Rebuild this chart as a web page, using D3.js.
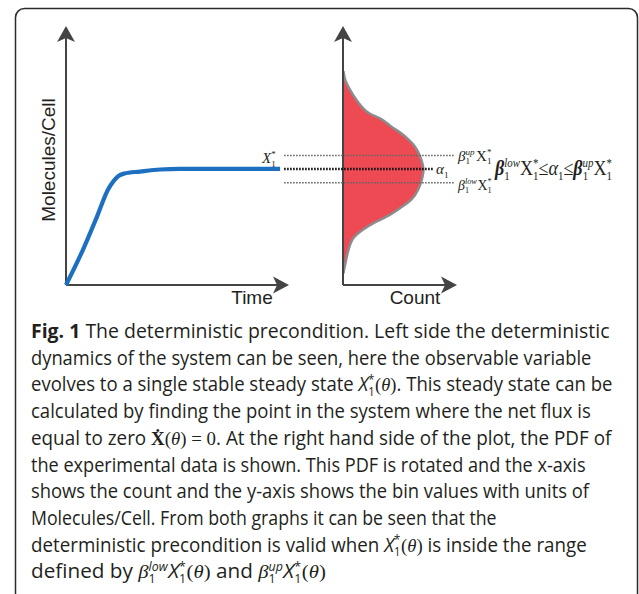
<!DOCTYPE html>
<html>
<head>
<meta charset="utf-8">
<script src="https://cdn.jsdelivr.net/npm/d3@7"></script>
<style>
body { margin: 0; background: #fff; }
svg text { fill: #231f20; white-space: pre; }
</style>
</head>
<body>
<div id="chart"></div>
<script>
var width = 639, height = 594

// deterministic time course (left panel), axes run 0..10
let timeVals = [0, 0.76, 1.39, 1.88, 2.15, 2.33, 2.6, 3.32, 4.22, 5.11, 9.6]
let molVals = [0, 1.36, 2.64, 3.68, 4.03, 4.19, 4.3, 4.38, 4.46, 4.48, 4.48]

// rotated PDF of the experimental data (right panel)
let binVals = [8.26, 7.9, 7.64, 7.17, 6.59, 6.47, 6.12, 5.89, 5.62, 5.35, 4.96, 4.57, 4.34, 3.99, 3.68, 3.29, 2.98, 2.64, 2.4, 2.13, 1.86, 1.63, 1.24, 0.85, 0.6, 0.45]
let countVals = [0, 0.12, 0.44, 1.05, 2.1, 3.25, 4.12, 5.0, 5.7, 6.32, 6.75, 7.02, 7.02, 6.84, 6.58, 6.05, 5.0, 3.86, 2.63, 1.67, 0.88, 0.61, 0.35, 0.18, 0.05, 0]

// steady state and the bounds around it
let steadyState = 4.48
let upperBound = 5.0
let lowerBound = 3.95

let axisLabels = ["Time", "Molecules/Cell", "Count"]

let captionLines = [
    [{ t: "Fig. 1", b: true }, { t: " The deterministic precondition. Left side the deterministic" }],
    [{ t: "dynamics of the system can be seen, here the observable variable" }],
    [{ t: "evolves to a single stable steady state " }, { t: "X", i: true }, { sub: "1", sup: "*" }, { t: "(", m: true }, { t: "θ", m: true, i: true }, { t: ")", m: true }, { t: ". This steady state can be" }],
    [{ t: "calculated by finding the point in the system where the net flux is" }],
    [{ t: "equal to zero " }, { t: "Ẋ", m: true, b: true }, { t: "(", m: true }, { t: "θ", m: true, i: true }, { t: ") = 0", m: true }, { t: ". At the right hand side of the plot, the PDF of" }],
    [{ t: "the experimental data is shown. This PDF is rotated and the x-axis" }],
    [{ t: "shows the count and the y-axis shows the bin values with units of" }],
    [{ t: "Molecules/Cell. From both graphs it can be seen that the" }],
    [{ t: "deterministic precondition is valid when " }, { t: "X", i: true }, { sub: "1", sup: "*" }, { t: "(", m: true }, { t: "θ", m: true, i: true }, { t: ")", m: true }, { t: " is inside the range" }],
    [{ t: "defined by " }, { t: "β", m: true, i: true }, { sub: "1", sup: "low", supI: true }, { t: "X", i: true }, { sub: "1", sup: "*" }, { t: "(", m: true }, { t: "θ", m: true, i: true }, { t: ")", m: true }, { t: " and " },
        { t: "β", m: true, i: true }, { sub: "1", sup: "up", supI: true }, { t: "X", i: true }, { sub: "1", sup: "*" }, { t: "(", m: true }, { t: "θ", m: true, i: true }, { t: ")", m: true }]
]
// right end of each caption line in the reference
let captionEnds = [610, 592, 613, 591, 613, 586, 591, 497, 587, 326]

const sansFont = "'Liberation Sans', Arial, sans-serif"
const serifFont = "'Liberation Serif', 'Times New Roman', serif"
const capFont = "'Open Sans', sans-serif"

let svg = d3.select("#chart")
    .append("svg")
    .attr("width", width)
    .attr("height", height)

// frame around the figure
svg.append("rect")
    .attr("x", 15.5)
    .attr("y", 8.5)
    .attr("width", 622)
    .attr("height", 640)
    .attr("rx", 9)
    .attr("fill", "none")
    .attr("stroke", "#2b2b2b")
    .attr("stroke-width", 1.5)

let xTime = d3.scaleLinear().domain([0, 10]).range([66, 289])
let yMol = d3.scaleLinear().domain([0, 10]).range([285, 26])
let xCount = d3.scaleLinear().domain([0, 10]).range([343, 457])

function arrowUp(x, y) {
    return "M" + x + "," + y + " L" + (x + 9) + "," + (y + 16) + " L" + x + "," + (y + 12) + " L" + (x - 9) + "," + (y + 16) + "Z"
}
function arrowRight(x, y) {
    return "M" + x + "," + y + " L" + (x - 16) + "," + (y + 8.5) + " L" + (x - 12) + "," + y + " L" + (x - 16) + "," + (y - 8.5) + "Z"
}

function drawAxes(xs) {
    let g = svg.append("g")
    g.append("line")
        .attr("x1", xs(0)).attr("y1", yMol(0))
        .attr("x2", xs(0)).attr("y2", yMol(10) + 10)
        .attr("stroke", "#444").attr("stroke-width", 2)
    g.append("line")
        .attr("x1", xs(0)).attr("y1", yMol(0))
        .attr("x2", xs(10) - 10).attr("y2", yMol(0))
        .attr("stroke", "#444").attr("stroke-width", 2)
    g.append("path").attr("d", arrowUp(xs(0), yMol(10))).attr("fill", "#444")
    g.append("path").attr("d", arrowRight(xs(10), yMol(0))).attr("fill", "#444")
}

// rich text helper for the math bits
function rich(parent, x, y, size, segs, family) {
    let t = parent.append("text")
        .attr("x", x).attr("y", y)
        .style("font-size", size + "px")
        .style("font-family", family)
    let shift = 0
    let pad = 0
    segs.forEach(s => {
        if (s.sub !== undefined || s.sup !== undefined) {
            let wSub = 0, wSup = 0
            let ssize = size * 0.6
            if (s.sub !== undefined) {
                let ts = t.append("tspan")
                    .attr("dx", pad)
                    .attr("dy", size * 0.25 - shift)
                    .style("font-size", ssize + "px")
                    .text(s.sub)
                shift = size * 0.25
                wSub = ts.node().getComputedTextLength()
                pad = 0
            }
            if (s.sup !== undefined) {
                let ts = t.append("tspan")
                    .attr("dx", pad - wSub)
                    .attr("dy", -size * 0.38 - shift)
                    .style("font-size", ssize + "px")
                    .style("font-style", s.supI ? "italic" : "normal")
                    .text(s.sup)
                shift = -size * 0.38
                wSup = ts.node().getComputedTextLength()
                pad = Math.max(wSub, wSup) - wSup
            }
            pad += (s.gap === undefined ? 0.5 : s.gap)
        } else {
            t.append("tspan")
                .attr("dx", pad)
                .attr("dy", -shift)
                .style("font-family", s.m ? serifFont : family)
                .style("font-style", s.i ? "italic" : "normal")
                .style("font-weight", s.b ? "bold" : "normal")
                .text(s.t)
            shift = 0
            pad = 0
        }
    })
    return t
}

// squeeze a text group horizontally so it spans x0..x1
function fitTo(parent, x0, x1, y, size, segs, family) {
    let g = parent.append("g")
    let t = rich(g, 0, 0, size, segs, family)
    let w = t.node().getBBox().width
    g.attr("transform", "translate(" + x0 + "," + y + ") scale(" + ((x1 - x0) / w) + ",1)")
    return g
}

// left panel
drawAxes(xTime)

svg.append("path")
    .datum(d3.zip(timeVals, molVals))
    .attr("d", d3.line()
        .x(d => xTime(d[0]))
        .y(d => yMol(d[1]))
        .curve(d3.curveMonotoneX))
    .attr("fill", "none")
    .attr("stroke", "#1d6fc0")
    .attr("stroke-width", 4.2)

// right panel
let pdf = d3.zip(binVals, countVals)
svg.append("path")
    .datum(pdf)
    .attr("d", d3.area()
        .y(d => yMol(d[0]))
        .x0(xCount(0))
        .x1(d => xCount(d[1]))
        .curve(d3.curveBasis))
    .attr("fill", "#ee4a54")

svg.append("path")
    .datum(pdf)
    .attr("d", d3.line()
        .y(d => yMol(d[0]))
        .x(d => xCount(d[1]) + 0.5)
        .curve(d3.curveBasis))
    .attr("fill", "none")
    .attr("stroke", "#8c8c8c")
    .attr("stroke-width", 2.5)

drawAxes(xCount)

// dotted guides
let lineStart = xTime(9.78)
let guides = [
    { v: upperBound, end: xCount(9.8), c: "#666", w: 1.6 },
    { v: lowerBound, end: xCount(9.8), c: "#666", w: 1.6 },
    { v: steadyState, end: xCount(7.9), c: "#111", w: 2.6 }
]
svg.selectAll(".guide")
    .data(guides)
    .enter()
    .append("line")
    .attr("class", "guide")
    .attr("x1", lineStart)
    .attr("x2", d => d.end)
    .attr("y1", d => yMol(d.v))
    .attr("y2", d => yMol(d.v))
    .attr("stroke", d => d.c)
    .attr("stroke-width", d => d.w)
    .attr("stroke-dasharray", "1.6,1.4")

// axis titles
svg.append("text")
    .attr("x", 252).attr("y", 304)
    .attr("text-anchor", "middle")
    .style("font-family", sansFont).style("font-size", "19px")
    .text(axisLabels[0])
svg.append("text")
    .attr("transform", "translate(55," + 160 + ") rotate(-90)")
    .attr("text-anchor", "middle")
    .style("font-family", sansFont).style("font-size", "19px")
    .text(axisLabels[1])
svg.append("text")
    .attr("x", 415).attr("y", 304)
    .attr("text-anchor", "middle")
    .style("font-family", sansFont).style("font-size", "19px")
    .text(axisLabels[2])

// math labels
rich(svg, 262, yMol(steadyState) - 6, 15, [{ t: "X", i: true }, { sub: "1", sup: "*" }], serifFont)
fitTo(svg, 458, 493, yMol(upperBound) + 5, 15, [{ t: "β", i: true }, { sub: "1", sup: "up", supI: true, gap: 1.5 }, { t: "X" }, { sub: "1", sup: "*" }], serifFont)
rich(svg, 436, yMol(steadyState) + 5, 15, [{ t: "α", i: true }, { sub: "1" }], serifFont)
fitTo(svg, 458, 493, yMol(lowerBound) + 7, 15, [{ t: "β", i: true }, { sub: "1", sup: "low", supI: true, gap: 0.5 }, { t: "X" }, { sub: "1", sup: "*" }], serifFont)
fitTo(svg, 495, 613, yMol(steadyState) + 6, 20, [
    { t: "β", i: true, b: true }, { sub: "1", sup: "low", supI: true, gap: 0 }, { t: "X" }, { sub: "1", sup: "*", gap: 0 },
    { t: "≤" }, { t: "α", i: true }, { sub: "1", gap: 0 }, { t: "≤" },
    { t: "β", i: true, b: true }, { sub: "1", sup: "up", supI: true, gap: 0 }, { t: "X" }, { sub: "1", sup: "*", gap: 0 }
], serifFont)

// caption
let capG = svg.append("g")
captionLines.forEach((line, i) => {
    fitTo(capG, 31, captionEnds[i], 338 + i * 26.7, 19.5, line, capFont)
})
</script>
</body>
</html>
